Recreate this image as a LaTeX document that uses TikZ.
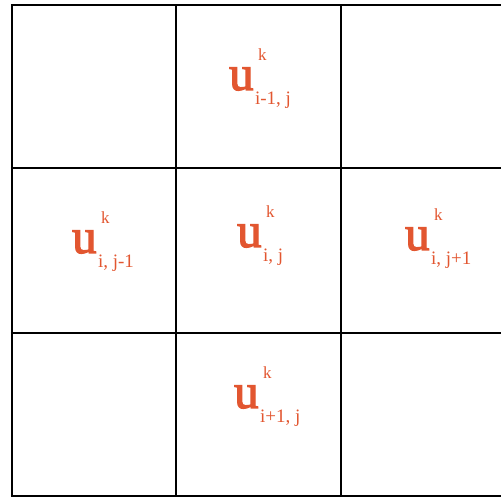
\documentclass[tikz,border=0pt]{standalone}
\usepackage{fontspec}
\setmainfont{Liberation Serif}
\newfontfamily\heavyserif[FakeBold=2.6]{Liberation Serif}
\usepackage{tikz}
\usetikzlibrary{positioning}
\definecolor{stencilred}{RGB}{226, 86, 48}

\tikzset{
  bigu/.style={stencilred, inner sep=0pt, anchor=base west, font=\heavyserif\fontsize{49}{49}\selectfont},
  supk/.style={stencilred, inner sep=0pt, anchor=base west, font=\fontsize{17}{17}\selectfont},
  subij/.style={stencilred, inner sep=0pt, anchor=base west, font=\fontsize{19}{19}\selectfont},
  gridline/.style={line width=2.2pt, black}
}

\begin{document}
\begin{tikzpicture}[x=1pt, y=1pt]
  \useasboundingbox (0,0) rectangle (501,497);
  % grid
  \foreach \gx in {12,176,341}
    \draw[gridline] (\gx,492) -- (\gx,1);
  \foreach \gy in {492,329,164,1}
    \draw[gridline] (10.9,\gy) -- (501,\gy);
  % stencil values
  \foreach \cname/\ux/\uy/\sub in {top/229/407/{i-1, j}, left/72/244/{i, j-1},
      mid/237/250/{i, j}, right/405/247/{i, j+1}, bot/234/89/{i+1, j}} {
    \node[bigu] (u\cname) at (\ux,\uy) {u};
    \node[supk] (k\cname) at ([shift={(4,29)}]u\cname.base east) {k};
    \node[subij] (s\cname) at ([shift={(1,-15)}]u\cname.base east) {\sub};
  }
\end{tikzpicture}
\end{document}
